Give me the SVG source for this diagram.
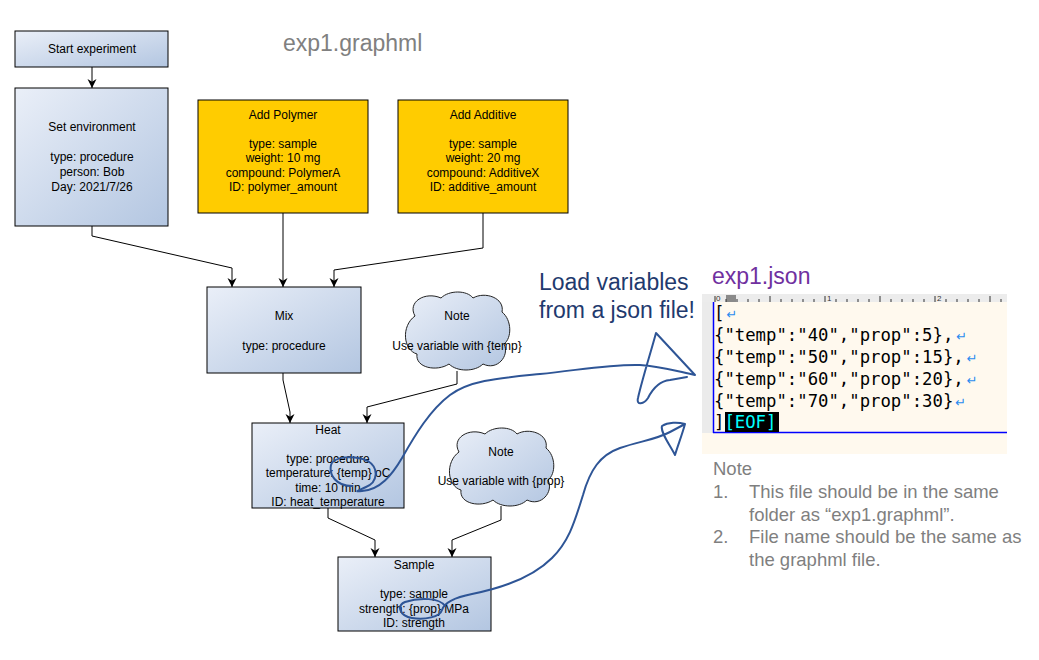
<svg xmlns="http://www.w3.org/2000/svg" width="1039" height="660" viewBox="0 0 1039 660">
<defs>
<linearGradient id="blueGrad" x1="0" y1="0" x2="1" y2="1">
<stop offset="0" stop-color="#EAEFF8"/>
<stop offset="1" stop-color="#B3C6E1"/>
</linearGradient>
<marker id="arr" viewBox="0 0 10 10" refX="10" refY="5" markerWidth="9" markerHeight="11" markerUnits="userSpaceOnUse" orient="auto">
<path d="M0,0 L10,5 L0,10 L3,5 Z" fill="#000"/>
</marker>
<path id="cloud" d="M 12,24 C 4,10 22,-1 38,6 C 46,-2 64,-2 70,6 C 82,-1 102,6 99,20 C 109,28 109,46 101,52 C 107,64 94,79 80,72 C 72,80 54,80 46,72 C 34,80 12,76 14,62 C 0,58 -2,34 12,24 Z"/>
</defs>
<style>
.box{fill:url(#blueGrad);stroke:#000;stroke-width:1}
.ybox{fill:#FFCC00;stroke:#000;stroke-width:1}
.cl{fill:url(#blueGrad);stroke:#222;stroke-width:1}
.t{font-family:"Liberation Sans",Arial,sans-serif;font-size:12px;fill:#000;text-anchor:middle}
.edge{fill:none;stroke:#000;stroke-width:1;marker-end:url(#arr)}
.hand{fill:none;stroke:#2E5596;stroke-width:2;stroke-linecap:round;stroke-linejoin:round}
.big{font-family:"Liberation Sans",Arial,sans-serif;font-size:23px}
.mono{font-family:"DejaVu Sans Mono","Liberation Mono",monospace;font-size:17.3px;fill:#000}
.ret{font-family:"DejaVu Sans",sans-serif;font-size:13px;fill:#2A8CF0}
.note{font-family:"Liberation Sans",Arial,sans-serif;font-size:18.5px;fill:#7F7F7F}
</style>

<rect width="1039" height="660" fill="#FFFFFF"/>

<text class="big" x="283" y="51" fill="#808080">exp1.graphml</text>

<g id="connectors">
<path class="edge" d="M92,67 L92,88"/>
<path class="edge" d="M92,226 L92,236 L232,268 L232,287"/>
<path class="edge" d="M283,213 L283,287"/>
<path class="edge" d="M483,213 L483,248 L334,270 L334,287"/>
<path class="edge" d="M283,373 L283,380 L290,412 L290,423"/>
<path class="edge" d="M457,371 L457,384 L367,407 L367,423"/>
<path class="edge" d="M328,508 L328,518 L375,540 L375,557"/>
<path class="edge" d="M501,506 L501,520 L452,540 L452,557"/>
</g>

<g id="start">
<rect class="box" x="15" y="31" width="153" height="36"/>
<text class="t" x="92" y="53">Start experiment</text>
</g>

<g id="setenv">
<rect class="box" x="15" y="88" width="153" height="138"/>
<text class="t" x="92" y="131">Set environment</text>
<text class="t" x="92" y="161">type: procedure</text>
<text class="t" x="92" y="176">person: Bob</text>
<text class="t" x="92" y="191">Day: 2021/7/26</text>
</g>

<g id="polymer">
<rect class="ybox" x="198" y="100" width="170" height="113"/>
<text class="t" x="283" y="119">Add Polymer</text>
<text class="t" x="283" y="148">type: sample</text>
<text class="t" x="283" y="162">weight: 10 mg</text>
<text class="t" x="283" y="177">compound: PolymerA</text>
<text class="t" x="283" y="191">ID: polymer_amount</text>
</g>

<g id="additive">
<rect class="ybox" x="398" y="100" width="170" height="113"/>
<text class="t" x="483" y="119">Add Additive</text>
<text class="t" x="483" y="148">type: sample</text>
<text class="t" x="483" y="162">weight: 20 mg</text>
<text class="t" x="483" y="177">compound: AdditiveX</text>
<text class="t" x="483" y="191">ID: additive_amount</text>
</g>

<g id="mix">
<rect class="box" x="207" y="287" width="154" height="86"/>
<text class="t" x="284" y="320">Mix</text>
<text class="t" x="284" y="350">type: procedure</text>
</g>

<g id="note1">
<use href="#cloud" class="cl" transform="translate(403,292)"/>
<text class="t" x="457" y="320">Note</text>
<text class="t" x="457" y="350">Use variable with {temp}</text>
</g>

<g id="heat">
<rect class="box" x="252" y="423" width="152" height="85"/>
<text class="t" x="328" y="434">Heat</text>
<text class="t" x="328" y="463">type: procedure</text>
<text class="t" x="328" y="477">temperature: {temp} oC</text>
<text class="t" x="328" y="492">time: 10 min</text>
<text class="t" x="328" y="506">ID: heat_temperature</text>
</g>

<g id="note2">
<use href="#cloud" class="cl" transform="translate(447,428)"/>
<text class="t" x="501" y="456">Note</text>
<text class="t" x="501" y="485">Use variable with {prop}</text>
</g>

<g id="sample">
<rect class="box" x="338" y="557" width="153" height="74"/>
<text class="t" x="414" y="569">Sample</text>
<text class="t" x="414" y="598">type: sample</text>
<text class="t" x="414" y="613">strength: {prop} MPa</text>
<text class="t" x="414" y="627">ID: strength</text>
</g>

<g id="load-label">
<text class="big" x="539" y="290" fill="#1F3A6E">Load variables</text>
<text class="big" x="539" y="318" fill="#1F3A6E">from a json file!</text>
</g>

<g id="json-panel">
<text class="big" x="712" y="284" fill="#7030A0">exp1.json</text>
<rect x="702" y="294" width="305" height="160" fill="#FFF9EE"/>
<rect x="702" y="294" width="305" height="8" fill="#ECECEC"/>
<rect x="702" y="302" width="11" height="131" fill="#EBEBEB"/>
<rect x="726" y="295" width="10" height="7" fill="#8A8A8A"/>
<path d="M715,296v6 M726,299v3 M737,299v3 M748,299v3 M759,299v3 M770,296v6 M781,299v3 M792,299v3 M803,299v3 M814,299v3 M825,296v6 M836,299v3 M847,299v3 M858,299v3 M869,299v3 M880,296v6 M891,299v3 M902,299v3 M913,299v3 M924,299v3 M935,296v6 M946,299v3 M957,299v3 M968,299v3 M979,299v3 M990,296v6 M1001,299v3" stroke="#333" stroke-width="1" fill="none"/>
<text x="716" y="301" font-family="Liberation Sans, sans-serif" font-size="8" fill="#333">0</text>
<text x="827" y="301" font-family="Liberation Sans, sans-serif" font-size="8" fill="#333">1</text>
<text x="937" y="301" font-family="Liberation Sans, sans-serif" font-size="8" fill="#333">2</text>
<line x1="713.5" y1="302" x2="713.5" y2="433" stroke="#0000FF" stroke-width="1.5"/>
<line x1="713" y1="432.5" x2="1007" y2="432.5" stroke="#0000FF" stroke-width="1.5"/>
<text class="mono" x="714" y="319">[<tspan class="ret" dx="2">↵</tspan></text>
<text class="mono" x="714" y="341">{"temp":"40","prop":5},<tspan class="ret" dx="3">↵</tspan></text>
<text class="mono" x="714" y="363">{"temp":"50","prop":15},<tspan class="ret" dx="3">↵</tspan></text>
<text class="mono" x="714" y="385">{"temp":"60","prop":20},<tspan class="ret" dx="3">↵</tspan></text>
<text class="mono" x="714" y="407">{"temp":"70","prop":30}<tspan class="ret" dx="2">↵</tspan></text>
<rect x="725" y="412" width="54" height="20" fill="#000"/>
<text class="mono" x="714" y="428">]<tspan style="fill:#00FFFF">[EOF]</tspan></text>
</g>

<g id="notes-text">
<text class="note" x="713" y="475">Note</text>
<text class="note" x="713" y="498">1.</text>
<text class="note" x="749" y="498">This file should be in the same</text>
<text class="note" x="749" y="521">folder as “exp1.graphml”.</text>
<text class="note" x="713" y="543">2.</text>
<text class="note" x="749" y="543">File name should be the same as</text>
<text class="note" x="749" y="566">the graphml file.</text>
</g>

<g id="handdrawn">
<path class="hand" d="M 352,486 C 336,486 329,475 331,465 C 334,456 355,455 368,461 C 379,468 378,482 366,487 C 360,490 352,492 362,491 C 380,490 392,475 402,458 C 415,435 430,410 450,395 C 470,380 500,378 540,374 C 580,370 610,364 640,365 C 660,366 680,372 695,375 L 656,333 C 650,355 642,380 638,398 C 636,406 644,404 648,398 C 653,388 660,381 670,380 L 687,377"/>
<path class="hand" d="M 445,606 C 440,598 420,597 405,602 C 396,606 400,616 412,618 C 425,620 440,617 442,610 C 444,603 452,598 472,594 C 502,588 532,578 552,558 C 570,540 575,520 583,495 C 590,470 600,455 620,448 C 640,441 655,440 670,432 L 685,424 C 678,422 668,422 662,426 C 660,432 670,445 675,455 C 678,445 682,435 685,424"/>
</g>
</svg>
